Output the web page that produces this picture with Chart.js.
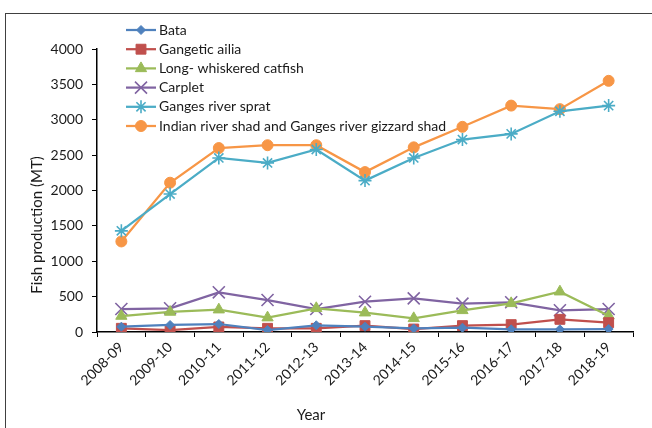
<!DOCTYPE html>
<html>
<head>
<meta charset="utf-8">
<script src="https://cdn.jsdelivr.net/npm/chart.js@4/dist/chart.umd.min.js"></script>
<style>
  html, body { margin: 0; padding: 0; background: #fff; overflow: hidden; }
  #wrap { position: relative; width: 652px; height: 428px; }
  #frame { position: absolute; left: 5px; top: 13px; width: 700px; height: 500px; border: 1px solid #404040; box-sizing: border-box; }
  canvas { position: absolute; left: 0; top: 0; }
</style>
</head>
<body>
<div id="wrap">
  <div id="frame"></div>
  <canvas id="c" width="652" height="428"></canvas>
</div>
<script>
const categories = ["2008-09","2009-10","2010-11","2011-12","2012-13","2013-14","2014-15","2015-16","2016-17","2017-18","2018-19"];
const bata = [75, 99, 113, 28, 95, 75, 50, 61, 38, 38, 42];
const gangeticAilia = [52, 28, 71, 52, 52, 90, 42, 90, 104, 179, 132];
const longWhiskeredCatfish = [226, 283, 316, 203, 335, 273, 193, 306, 405, 570, 231];
const carplet = [325, 335, 561, 452, 325, 428, 476, 400, 420, 307, 325];
const gangesRiverSprat = [1430, 1950, 2460, 2390, 2580, 2140, 2460, 2720, 2800, 3120, 3200];
const indianRiverShad = [1280, 2110, 2600, 2640, 2640, 2260, 2610, 2900, 3200, 3150, 3550];
const yTicks = [0, 500, 1000, 1500, 2000, 2500, 3000, 3500, 4000];
const yTitle = "Fish production (MT)";
const xTitle = "Year";

const FONT = "Lato, 'Liberation Sans', sans-serif";
const TXT = "#1a1a1a";
const FS = 14;

function ds(label, data, color, style, radius, bw) {
  return {
    label, data,
    borderColor: color, backgroundColor: color,
    borderWidth: 2.25,
    pointStyle: style, pointRadius: radius, pointHoverRadius: radius,
    pointBorderColor: color, pointBackgroundColor: color,
    pointBorderWidth: bw,
    tension: 0
  };
}

const datasets = [
  ds("Bata", bata, "#4F81BD", "rectRot", 4.5, 1),
  ds("Gangetic ailia", gangeticAilia, "#C0504D", "rect", 7, 1),
  ds("Long- whiskered catfish", longWhiskeredCatfish, "#9BBB59", "triangle", 6.5, 1),
  ds("Carplet", carplet, "#8064A2", "crossRot", 8.5, 1.6),
  ds("Ganges river sprat", gangesRiverSprat, "#4BACC6", "star", 6.5, 1.6),
  ds("Indian river shad and Ganges river gizzard shad", indianRiverShad, "#F79646", "circle", 5.5, 1)
];

const customDraw = {
  id: "customDraw",
  afterDraw(chart) {
    const ctx = chart.ctx;
    ctx.save();
    const x0 = 126, x1 = 156, tx = 159, y0 = 30, dy = 19.2;
    chart.data.datasets.forEach((d, i) => {
      const y = y0 + i * dy;
      ctx.strokeStyle = d.borderColor;
      ctx.lineWidth = 2.25;
      ctx.beginPath(); ctx.moveTo(x0, y); ctx.lineTo(x1, y); ctx.stroke();
      ctx.fillStyle = d.backgroundColor;
      ctx.strokeStyle = d.borderColor;
      ctx.lineWidth = d.pointBorderWidth;
      Chart.helpers.drawPoint(ctx, { pointStyle: d.pointStyle, radius: d.pointRadius, borderWidth: d.pointBorderWidth, rotation: 0 }, (x0 + x1) / 2, y);
      ctx.fillStyle = TXT;
      ctx.font = FS + "px " + FONT;
      ctx.textAlign = "left";
      ctx.textBaseline = "middle";
      ctx.fillText(d.label, tx, y);
    });
    ctx.fillStyle = TXT;
    ctx.font = "15px " + FONT;
    ctx.textAlign = "center";
    ctx.textBaseline = "middle";
    ctx.fillText(xTitle, 311, 415);
    ctx.translate(37, 225);
    ctx.rotate(-Math.PI / 2);
    ctx.fillText(yTitle, 0, 0);
    ctx.restore();
  }
};

new Chart(document.getElementById("c"), {
  type: "line",
  data: { labels: categories, datasets },
  plugins: [customDraw],
  options: {
    responsive: false,
    animation: false,
    events: [],
    layout: { padding: { left: 0, right: 19, top: 49, bottom: 0 } },
    plugins: { legend: { display: false }, tooltip: { enabled: false } },
    scales: {
      x: {
        type: "category",
        offset: true,
        border: { display: true, color: "#000", width: 1.5 },
        grid: { display: true, offset: true, drawOnChartArea: false, drawTicks: true, tickLength: 5, color: "#000", lineWidth: 1 },
        ticks: { color: TXT, font: { size: FS, family: FONT }, minRotation: 45, maxRotation: 45, padding: 2, autoSkip: false },
        afterFit(s) { s.height = 96; }
      },
      y: {
        min: 0, max: 4000,
        afterBuildTicks(s) { s.ticks = yTicks.map(v => ({ value: v })); },
        border: { display: true, color: "#000", width: 1.5 },
        grid: { display: true, drawOnChartArea: false, drawTicks: true, tickLength: 5, color: "#000", lineWidth: 1 },
        ticks: { color: TXT, font: { size: FS, family: FONT }, padding: 9, callback: v => String(v) },
        afterFit(s) { s.width = 97; }
      }
    }
  }
});
</script>
</body>
</html>
